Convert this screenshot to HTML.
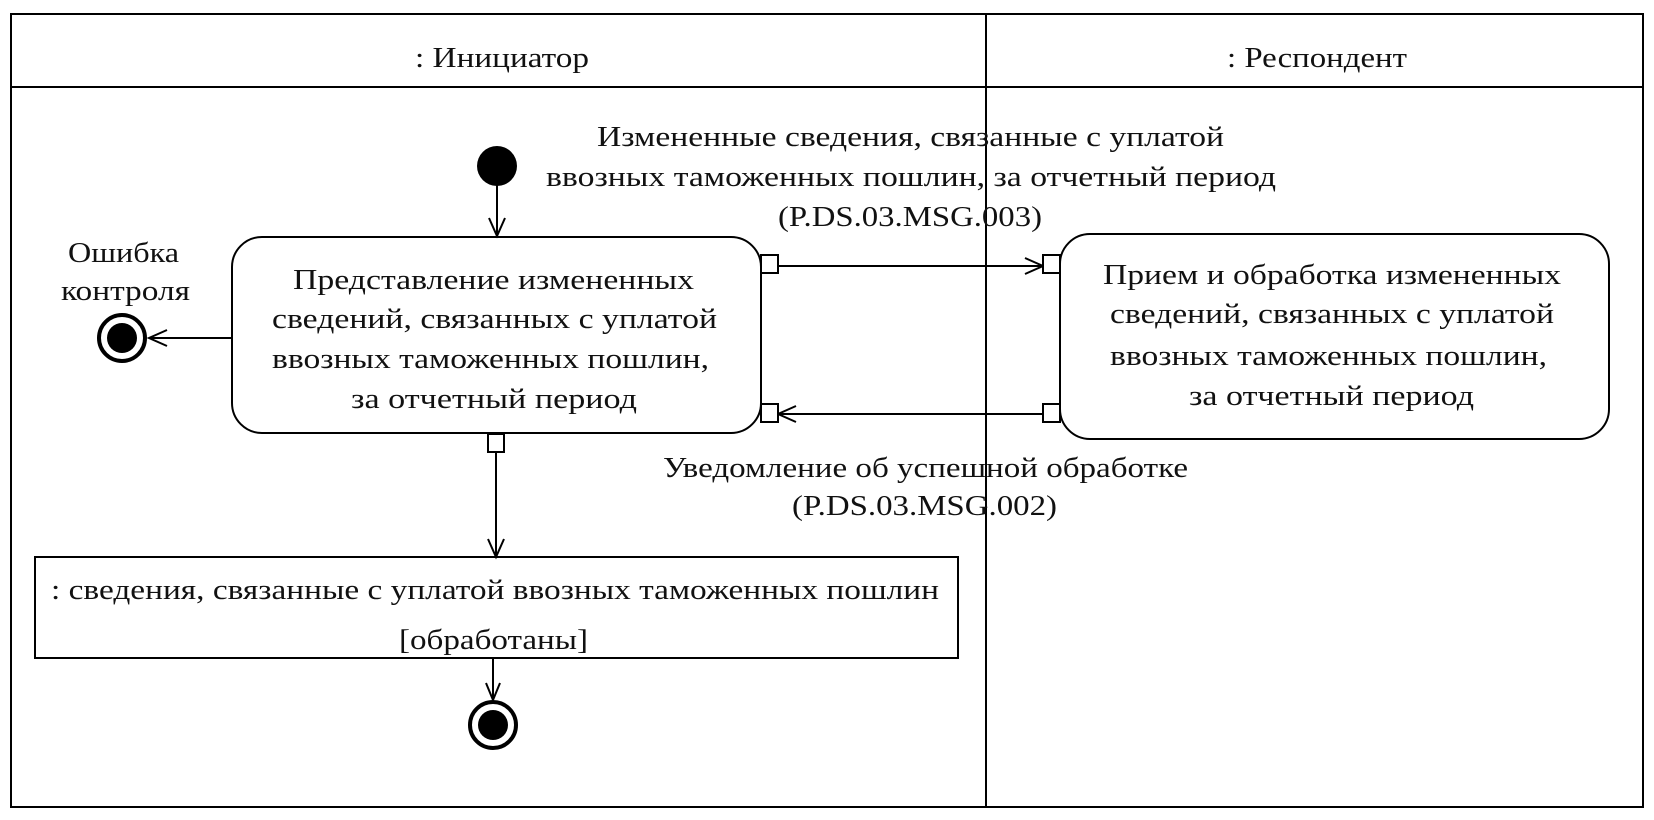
<!DOCTYPE html>
<html><head><meta charset="utf-8"><style>
html,body{margin:0;padding:0;background:#fff;}
svg{display:block;}
text{font-family:"Liberation Serif",serif;font-size:29px;fill:#111;}
</style></head><body>
<svg width="1654" height="820" viewBox="0 0 1654 820" xmlns="http://www.w3.org/2000/svg">
<g stroke="#000" stroke-width="2" fill="none">
<rect x="11" y="14" width="1632" height="793"/>
<line x1="11" y1="87" x2="1643" y2="87"/>
<line x1="986" y1="14" x2="986" y2="807"/>
<rect x="232" y="237" width="529" height="196" rx="30"/>
<rect x="1060" y="234" width="549" height="205" rx="30"/>
<rect x="35" y="557" width="923" height="101"/>
<line x1="497" y1="185" x2="497" y2="236"/>
<polyline points="489,218 497,236 505,218"/>
<line x1="232" y1="338" x2="149" y2="338"/>
<polyline points="167,330 149,338 167,346"/>
<line x1="778" y1="266" x2="1043" y2="266"/>
<polyline points="1025,258 1043,266 1025,274"/>
<line x1="1043" y1="414" x2="778" y2="414"/>
<polyline points="796,406 778,414 796,422"/>
<line x1="496" y1="452" x2="496" y2="557"/>
<polyline points="488,539 496,557 504,539"/>
<line x1="493" y1="658" x2="493" y2="700"/>
<polyline points="486,683 493,700 500,683"/>
</g>
<g stroke="#000" stroke-width="2" fill="#fff">
<rect x="761" y="255" width="17" height="18"/>
<rect x="1043" y="255" width="17" height="18"/>
<rect x="761" y="404" width="17" height="18"/>
<rect x="1043" y="404" width="17" height="18"/>
<rect x="488" y="434" width="16" height="18"/>
</g>
<circle cx="497" cy="166" r="20" fill="#000"/>
<circle cx="122" cy="338" r="23" fill="#fff" stroke="#000" stroke-width="4"/>
<circle cx="122" cy="338" r="15" fill="#000"/>
<circle cx="493" cy="725" r="23" fill="#fff" stroke="#000" stroke-width="4"/>
<circle cx="493" cy="725" r="15" fill="#000"/>
<g dominant-baseline="central">
<text x="415" y="58" textLength="174" lengthAdjust="spacingAndGlyphs">: Инициатор</text>
<text x="1227" y="58" textLength="180" lengthAdjust="spacingAndGlyphs">: Респондент</text>
<text x="68" y="253" textLength="111" lengthAdjust="spacingAndGlyphs">Ошибка</text>
<text x="61" y="291" textLength="129" lengthAdjust="spacingAndGlyphs">контроля</text>
<text x="293" y="280" textLength="401" lengthAdjust="spacingAndGlyphs">Представление измененных</text>
<text x="272" y="319" textLength="445" lengthAdjust="spacingAndGlyphs">сведений, связанных с уплатой</text>
<text x="272" y="359" textLength="437" lengthAdjust="spacingAndGlyphs">ввозных таможенных пошлин,</text>
<text x="351" y="399" textLength="286" lengthAdjust="spacingAndGlyphs">за отчетный период</text>
<text x="1103" y="275" textLength="458" lengthAdjust="spacingAndGlyphs">Прием и обработка измененных</text>
<text x="1110" y="314" textLength="444" lengthAdjust="spacingAndGlyphs">сведений, связанных с уплатой</text>
<text x="1110" y="356" textLength="437" lengthAdjust="spacingAndGlyphs">ввозных таможенных пошлин,</text>
<text x="1189" y="396" textLength="285" lengthAdjust="spacingAndGlyphs">за отчетный период</text>
<text x="597" y="137" textLength="627" lengthAdjust="spacingAndGlyphs">Измененные сведения, связанные с уплатой</text>
<text x="546" y="177" textLength="730" lengthAdjust="spacingAndGlyphs">ввозных таможенных пошлин, за отчетный период</text>
<text x="778" y="217" textLength="264" lengthAdjust="spacingAndGlyphs">(P.DS.03.MSG.003)</text>
<text x="663" y="468" textLength="525" lengthAdjust="spacingAndGlyphs">Уведомление об успешной обработке</text>
<text x="792" y="506" textLength="265" lengthAdjust="spacingAndGlyphs">(P.DS.03.MSG.002)</text>
<text x="51" y="590" textLength="888" lengthAdjust="spacingAndGlyphs">: сведения, связанные с уплатой ввозных таможенных пошлин</text>
<text x="399" y="640" textLength="189" lengthAdjust="spacingAndGlyphs">[обработаны]</text>
</g>
</svg>
</body></html>
